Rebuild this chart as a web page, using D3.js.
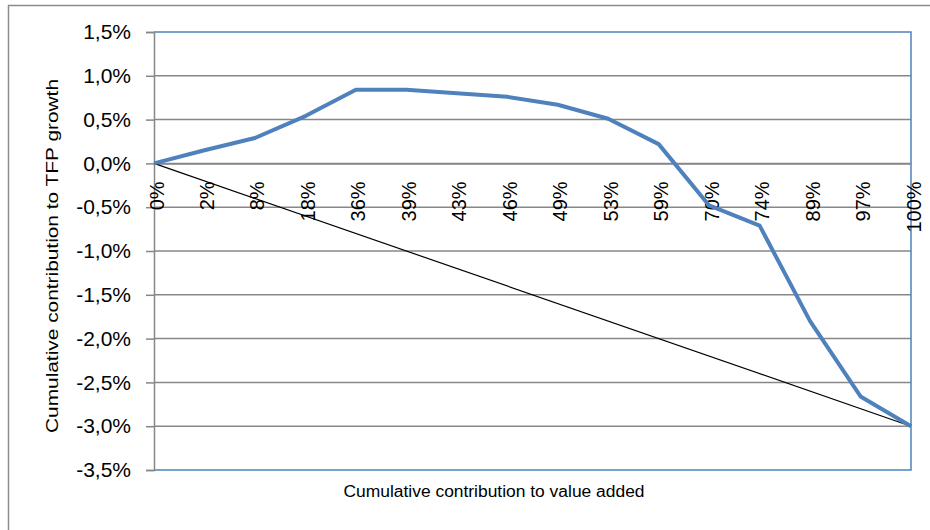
<!DOCTYPE html>
<html><head><meta charset="utf-8">
<script src="https://cdn.jsdelivr.net/npm/d3@7"></script>
<style>body{margin:0;background:#fff}svg{display:block}</style>
</head><body>
<svg id="c" width="930" height="530"></svg>
<script>
const categories = ["0%","2%","8%","18%","36%","39%","43%","46%","49%","53%","59%","70%","74%","89%","97%","100%"];
const tfpValues = [0.0,0.15,0.29,0.54,0.84,0.84,0.80,0.76,0.67,0.51,0.22,-0.48,-0.71,-1.80,-2.66,-3.0];
const refLine = [0.0,-3.0];
const yTicks = [1.5,1.0,0.5,0.0,-0.5,-1.0,-1.5,-2.0,-2.5,-3.0,-3.5];
const yTitle = "Cumulative contribution to TFP growth";
const xTitle = "Cumulative contribution to value added";

const svg = d3.select("#c");
const L=154, R=911, T=32, B=470;
const x = d3.scalePoint().domain(categories).range([L,R]);
const y = d3.scaleLinear().domain([-3.5,1.5]).range([B,T]);
const fmt = v => v.toFixed(1).replace(".",",")+"%";
const FONT = "Liberation Sans, Arial, sans-serif";

// outer frame
svg.append("path").attr("d","M8.5,530 V5.5 H930").attr("fill","none").attr("stroke","#8c8c8c").attr("stroke-width",1.5);

// gridlines
svg.append("g").selectAll("line").data(yTicks.filter(v=>v!==1.5 && v!==-3.5)).join("line")
  .attr("x1",L).attr("x2",R).attr("y1",d=>y(d)).attr("y2",d=>y(d))
  .attr("stroke","#878787").attr("stroke-width",1.5);

// plot border (blue)
svg.append("path").attr("d",`M${L},${T} H${R} V${B} H${L}`).attr("fill","none").attr("stroke","#4f81bd").attr("stroke-width",1.5);

// y axis
const yAxis = d3.axisLeft(y).tickValues(yTicks).tickFormat(fmt).tickSize(8).tickPadding(15);
const gy = svg.append("g").attr("transform",`translate(${L},0)`).call(yAxis);
gy.attr("font-family",FONT).attr("font-size",21);
gy.select(".domain").attr("stroke","#878787").attr("stroke-width",1.5);
gy.selectAll(".tick line").attr("stroke","#878787").attr("stroke-width",1.5);
gy.selectAll("text").attr("fill","#000");

// x axis at zero
const xAxis = d3.axisBottom(x).tickSize(0).tickPadding(0);
const gx = svg.append("g").attr("transform",`translate(0,${y(0)})`).call(xAxis);
gx.attr("font-family",FONT).attr("font-size",20);
gx.select(".domain").attr("stroke","#878787").attr("stroke-width",1.5);
gx.selectAll("text").attr("fill","#000")
  .attr("text-anchor","end").attr("transform","rotate(-90)").attr("x",-18).attr("y",2).attr("dy","0.35em");

// reference line
svg.append("line").attr("x1",x(categories[0])).attr("y1",y(refLine[0]))
  .attr("x2",x(categories[categories.length-1])).attr("y2",y(refLine[1]))
  .attr("stroke","#000").attr("stroke-width",1.2);

// data line
const line = d3.line().x((d,i)=>x(categories[i])).y(d=>y(d));
svg.append("path").datum(tfpValues).attr("d",line).attr("fill","none").attr("stroke","#4f81bd").attr("stroke-width",4).attr("stroke-linejoin","round");

// titles
svg.append("text").attr("transform","translate(58,256) rotate(-90)").attr("text-anchor","middle")
  .attr("font-family",FONT).attr("font-size",16).attr("textLength",354).attr("lengthAdjust","spacingAndGlyphs").text(yTitle);
svg.append("text").attr("x",494).attr("y",497).attr("text-anchor","middle")
  .attr("font-family",FONT).attr("font-size",16).attr("textLength",301).attr("lengthAdjust","spacingAndGlyphs").text(xTitle);
</script>
</body></html>
